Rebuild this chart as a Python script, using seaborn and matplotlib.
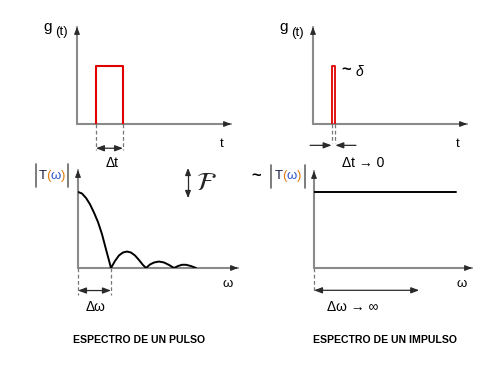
import matplotlib
matplotlib.use("Agg")
import matplotlib.pyplot as plt
import seaborn as sns
from matplotlib.lines import Line2D
from matplotlib.offsetbox import TextArea, HPacker, AnnotationBbox

# time domain: rectangular pulse and (near) impulse, g(t)
pulse_t = [1.23, 1.23, 2.99, 2.99]
pulse_g = [0.0, 0.60, 0.60, 0.0]
impulse_t = [1.25, 1.25, 1.41, 1.41]
impulse_g = [0.0, 0.60, 0.60, 0.0]

# frequency domain: |T(w)| of the pulse (|sinc|-like) and of the impulse (flat)
pulse_w = [0.00, 0.25, 0.50, 0.75, 1.00, 1.25, 1.50, 1.75, 1.94, 2.06,
           2.31, 2.56, 2.81, 3.06, 3.31, 3.56, 3.81, 4.06, 4.25,
           4.50, 4.75, 5.06, 5.38, 5.69, 6.00,
           6.25, 6.50, 6.75, 7.06, 7.38]
pulse_T = [0.776, 0.760, 0.715, 0.650, 0.565, 0.469, 0.345, 0.190, 0.075, 0.0,
           0.071, 0.128, 0.158, 0.168, 0.158, 0.128, 0.082, 0.031, 0.0,
           0.036, 0.056, 0.066, 0.056, 0.031, 0.0,
           0.020, 0.033, 0.033, 0.020, 0.0]
impulse_w = [0.0, 8.97]
impulse_T = [0.787, 0.787]

W, H = 500, 384
AXIS = "#8a8a8a"
DARK = "#2a2a2a"
HEAD = "-|>,head_length=0.35,head_width=0.14"

sns.set_theme(style="white")
plt.rcParams["font.family"] = ["Liberation Sans", "DejaVu Sans"]

fig = plt.figure(figsize=(5, 3.84), dpi=100)
fig.patch.set_facecolor("white")


def px(x, y):
    return x / W, 1 - y / H


def panel(x0, y0, x1, y1):
    """axes whose origin is at pixel (x0, y0), arrow tips at x1 / y1"""
    ax = fig.add_axes([x0 / W, 1 - y0 / H, (x1 - x0) / W, (y0 - y1) / H])
    ax.set_xlim(0, 10)
    ax.set_ylim(0, 1)
    ax.axis("off")
    ax.plot([0, 1], [0, 0], transform=ax.transAxes, color=AXIS, lw=1.5, clip_on=False, zorder=1)
    ax.plot([0, 0], [0, 1], transform=ax.transAxes, color=AXIS, lw=1.5, clip_on=False, zorder=1)
    head = dict(arrowstyle=HEAD, color=DARK, lw=0.8, shrinkA=0, shrinkB=0)
    ax.annotate("", xy=(1, 0), xytext=(0.97, 0), xycoords="axes fraction", arrowprops=head)
    ax.annotate("", xy=(0, 1), xytext=(0, 0.95), xycoords="axes fraction", arrowprops=head)
    return ax


def dashed(ax, x, y_end):
    ax.plot([x, x], [0, y_end], color="#777777", lw=0.9, ls=(0, (3, 2)), clip_on=False)


def darrow(ax, xa, xb, y, style="<|-|>"):
    ax.annotate("", xy=(xb, y), xytext=(xa, y), xycoords="data", annotation_clip=False,
                arrowprops=dict(arrowstyle=f"{style},head_length=0.4,head_width=0.15",
                                color=DARK, lw=0.9, shrinkA=0, shrinkB=0))


def txt(x, y, s, size=9, **kw):
    fig.text(*px(x, y), s, fontsize=size, ha="center", va="center", color="black", **kw)


def bars(x_left, x_right, y_top, y_bot):
    for xx in (x_left, x_right):
        fig.add_artist(Line2D([xx / W, xx / W], [1 - y_top / H, 1 - y_bot / H],
                              transform=fig.transFigure, color="#666666", lw=1.2))


def t_omega(ax, x, y):
    parts = [("T", "#1a1a40"), ("(", "#e07a10"), ("ω", "#2f55c8"), (")", "#e07a10")]
    box = HPacker(children=[TextArea(s, textprops=dict(color=c, fontsize=9.5)) for s, c in parts],
                  sep=0, pad=0, align="baseline")
    ab = AnnotationBbox(box, px(x, y), xycoords="figure fraction", frameon=False,
                        box_alignment=(0.5, 0.5), annotation_clip=False)
    ax.add_artist(ab)


# ---- top left: pulse g(t)
ax1 = panel(77, 124, 231, 27)
sns.lineplot(x=pulse_t, y=pulse_g, sort=False, estimator=None, color="#e00000", lw=1.5, ax=ax1)
dashed(ax1, pulse_t[0], -0.27)
dashed(ax1, pulse_t[2], -0.27)
darrow(ax1, pulse_t[0], pulse_t[2], -0.25)
txt(48, 27, "g", 11)
txt(61, 32, "(t)", 9.5)
txt(222, 144, "t", 9.5)
txt(112, 163, "Δt", 10)

# ---- top right: impulse g(t)
ax2 = panel(313, 124, 467, 27)
sns.lineplot(x=impulse_t, y=impulse_g, sort=False, estimator=None, color="#e00000", lw=1.3, ax=ax2)
dashed(ax2, impulse_t[0], -0.2)
dashed(ax2, impulse_t[2], -0.2)
darrow(ax2, -0.19, impulse_t[0] - 0.04, -0.22, style="-|>")
darrow(ax2, 2.79, impulse_t[2] + 0.04, -0.22, style="-|>")
txt(284, 27, "g", 11)
txt(297, 33, "(t)", 9.5)
txt(346, 70, "~", 12, fontweight="bold")
txt(359, 72, "δ", 10, style="italic")
txt(458, 144, "t", 9.5)
txt(363, 163, "Δt → 0", 10)

# ---- bottom left: spectrum of the pulse
ax3 = panel(78, 268, 238, 170)
sns.lineplot(x=pulse_w, y=pulse_T, sort=False, estimator=None, color="black", lw=1.4, ax=ax3)
dashed(ax3, 0, -0.28)
dashed(ax3, pulse_w[9], -0.28)
darrow(ax3, 0, pulse_w[9], -0.23)
bars(36, 68, 164, 187)
t_omega(ax3, 52, 176)
fig.add_artist(Line2D([188 / W] * 2, [1 - 170 / H, 1 - 196 / H], transform=fig.transFigure,
                      color=DARK, lw=0.9))
for tip, tail in ((168, 175), (198, 191)):
    ax3.annotate("", xy=px(188, tip), xytext=px(188, tail), xycoords="figure fraction",
                 arrowprops=dict(arrowstyle=HEAD, color=DARK, lw=0.9, shrinkA=0, shrinkB=0))
fig.text(*px(206, 183), r"$\mathcal{F}$", fontsize=19, ha="center", va="center",
         math_fontfamily="stix", fontweight="bold")
txt(228, 284, "ω", 9.5)
txt(96, 307, "Δω", 10)
txt(139, 340, "ESPECTRO DE UN PULSO", 7.6, fontweight="bold")

# ---- bottom right: spectrum of the impulse
ax4 = panel(314, 268, 472, 171)
sns.lineplot(x=impulse_w, y=impulse_T, sort=False, estimator=None, color="black", lw=1.4, ax=ax4)
dashed(ax4, 0, -0.25)
darrow(ax4, 0, 6.66, -0.23)
txt(256, 176, "~", 12, fontweight="bold")
bars(271, 305, 165, 188)
t_omega(ax4, 288, 176)
txt(462, 284, "ω", 9.5)
txt(353, 307, "Δω → ∞", 10)
txt(385, 340, "ESPECTRO DE UN IMPULSO", 7.6, fontweight="bold")

fig.savefig("out.png", dpi=100, facecolor="white")
